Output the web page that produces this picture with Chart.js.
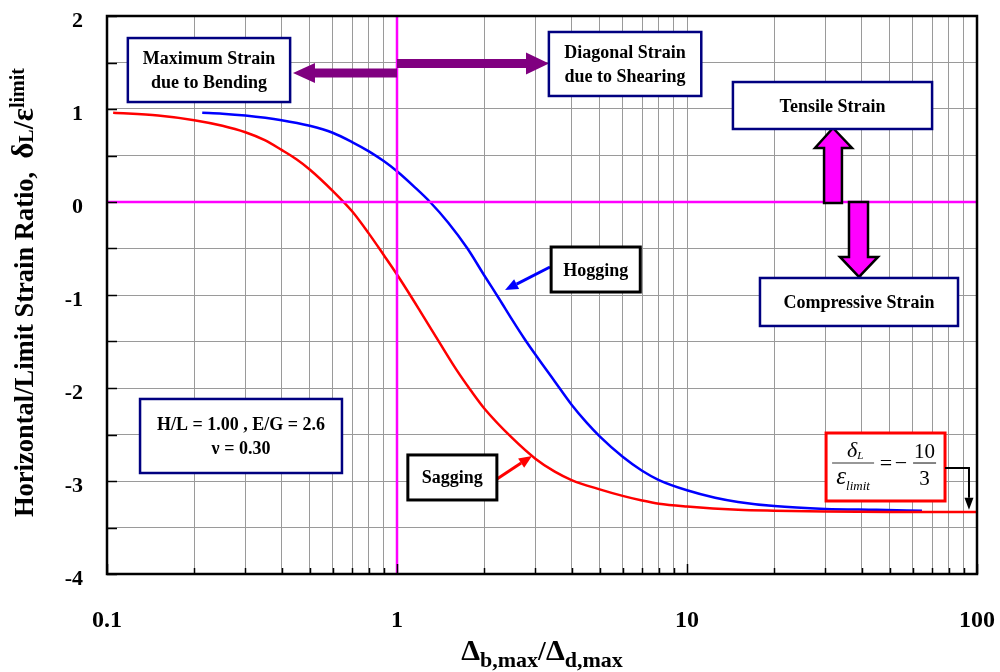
<!DOCTYPE html>
<html>
<head>
<meta charset="utf-8">
<script src="https://cdn.jsdelivr.net/npm/chart.js@4.4.0/dist/chart.umd.min.js"></script>
<style>
  html, body { margin: 0; padding: 0; background: #fff; }
  #wrap { width: 1000px; height: 672px; }
</style>
</head>
<body>
<div id="wrap"><canvas id="chart" width="1000" height="672"></canvas></div>
<script>
// Horizontal / limit strain ratio against bending-to-shear deflection ratio
const sagRatio  = [0.105, 0.15, 0.2, 0.25, 0.3, 0.35, 0.4, 0.45, 0.5, 0.6, 0.7, 0.8, 0.9, 1.0, 1.2, 1.4, 1.6, 1.8, 2.0, 2.5, 3.0, 3.5, 4, 5, 6, 7, 8, 10, 15, 20, 30, 50, 100];
const sagStrain = [0.96, 0.93, 0.88, 0.82, 0.75, 0.665, 0.56, 0.46, 0.35, 0.12, -0.10, -0.34, -0.57, -0.78, -1.17, -1.51, -1.80, -2.03, -2.22, -2.54, -2.76, -2.90, -2.99, -3.09, -3.16, -3.21, -3.245, -3.275, -3.31, -3.32, -3.328, -3.333, -3.333];

const hogRatio  = [0.213, 0.25, 0.3, 0.4, 0.5, 0.6, 0.7, 0.8, 0.9, 1.0, 1.15, 1.3, 1.5, 1.75, 2.0, 2.25, 2.5, 2.75, 3.0, 3.5, 4.0, 4.5, 5.0, 6.0, 7.0, 8.0, 10, 12.5, 15, 20, 30, 45, 64.6];
const hogStrain = [0.96, 0.95, 0.93, 0.88, 0.82, 0.745, 0.645, 0.545, 0.44, 0.33, 0.16, 0.0, -0.22, -0.50, -0.79, -1.04, -1.27, -1.47, -1.64, -1.93, -2.18, -2.37, -2.52, -2.74, -2.89, -2.99, -3.10, -3.18, -3.225, -3.27, -3.30, -3.31, -3.32];

// reference lines: unit deflection ratio and zero strain
const unitRatioX = [1, 1];
const unitRatioY = [-4, 2];
const zeroStrainX = [0.1, 100];
const zeroStrainY = [0, 0];

// axes
const xGridValues = [0.1, 0.2, 0.3, 0.4, 0.5, 0.6, 0.7, 0.8, 0.9,
                     1, 2, 3, 4, 5, 6, 7, 8, 9,
                     10, 20, 30, 40, 50, 60, 70, 80, 90, 100];
const xLabelValues = [0.1, 1, 10, 100];
const xTickLabels  = ['0.1', '1', '10', '100'];
const yLabelValues = [2, 1, 0, -1, -2, -3, -4];
const yTickLabels  = ['2', '1', '0', '-1', '-2', '-3', '-4'];

const SERIF = '"Liberation Serif", "Times New Roman", serif';
const NAVY = '#000080';

const toPoints = (xs, ys) => xs.map((v, i) => ({ x: v, y: ys[i] }));

function fontOf(p) {
  return `${p.style || 'normal'} ${p.weight || 'bold'} ${p.size}px ${SERIF}`;
}
function drawRich(ctx, parts, x, y, align) {
  let total = 0;
  const widths = parts.map(p => {
    ctx.font = fontOf(p);
    const w = ctx.measureText(p.t).width;
    total += w + (p.gap || 0);
    return w;
  });
  let cx = align === 'center' ? x - total / 2 : (align === 'right' ? x - total : x);
  ctx.textAlign = 'left';
  ctx.textBaseline = 'alphabetic';
  parts.forEach((p, i) => {
    ctx.font = fontOf(p);
    ctx.fillText(p.t, cx, y + (p.dy || 0));
    cx += widths[i] + (p.gap || 0);
  });
}

// text boxes, placed in data units (x ratio, y strain)
const noteBoxes = [
  { x0: 0.118, x1: 0.428, y0: 1.763, y1: 1.075, lines: ['Maximum Strain', 'due to Bending'], color: NAVY, lw: 2.5 },
  { x0: 3.34, x1: 11.2, y0: 1.828, y1: 1.14, lines: ['Diagonal Strain', 'due to Shearing'], color: NAVY, lw: 2.5 },
  { x0: 14.4, x1: 70, y0: 1.29, y1: 0.785, lines: ['Tensile Strain'], color: NAVY, lw: 2.5 },
  { x0: 17.85, x1: 86, y0: -0.817, y1: -1.333, lines: ['Compressive Strain'], color: NAVY, lw: 2.5 },
  { x0: 3.4, x1: 6.9, y0: -0.484, y1: -0.968, lines: ['Hogging'], color: '#000', lw: 3 },
  { x0: 1.09, x1: 2.21, y0: -2.72, y1: -3.204, lines: ['Sagging'], color: '#000', lw: 3 },
  { x0: 0.13, x1: 0.646, y0: -2.118, y1: -2.914, lines: ['H/L = 1.00 , E/G = 2.6', 'ν = 0.30'], color: NAVY, lw: 2.5 }
];

function arrowLine(ctx, x1, y1, x2, y2, color, lw, head, half) {
  const a = Math.atan2(y2 - y1, x2 - x1);
  const bx = x2 - head * Math.cos(a), by = y2 - head * Math.sin(a);
  ctx.strokeStyle = color; ctx.fillStyle = color; ctx.lineWidth = lw;
  ctx.beginPath(); ctx.moveTo(x1, y1); ctx.lineTo(bx, by); ctx.stroke();
  ctx.beginPath();
  ctx.moveTo(x2, y2);
  ctx.lineTo(bx + half * Math.sin(a), by - half * Math.cos(a));
  ctx.lineTo(bx - half * Math.sin(a), by + half * Math.cos(a));
  ctx.closePath(); ctx.fill();
}

function polygon(ctx, pts, fill, stroke, lw) {
  ctx.beginPath();
  pts.forEach((p, i) => (i ? ctx.lineTo(p[0], p[1]) : ctx.moveTo(p[0], p[1])));
  ctx.closePath();
  ctx.fillStyle = fill; ctx.fill();
  if (stroke) { ctx.strokeStyle = stroke; ctx.lineWidth = lw; ctx.lineJoin = 'miter'; ctx.stroke(); }
}

const backgroundPlugin = {
  id: 'paper',
  beforeDraw(chart) {
    const ctx = chart.ctx;
    ctx.save(); ctx.fillStyle = '#fff'; ctx.fillRect(0, 0, chart.width, chart.height); ctx.restore();
  }
};

const notesPlugin = {
  id: 'strainNotes',
  afterDatasetsDraw(chart) {
    const { ctx, chartArea: ca, scales: { x, y } } = chart;
    const X = v => x.getPixelForValue(v);
    const Y = v => y.getPixelForValue(v);
    ctx.save();

    // inward tick marks
    ctx.strokeStyle = '#000'; ctx.lineWidth = 1.5;
    xGridValues.forEach(v => {
      const px = Math.round(X(v)) + 0.5;
      const len = xLabelValues.includes(v) ? 10 : 6;
      ctx.beginPath(); ctx.moveTo(px, ca.bottom); ctx.lineTo(px, ca.bottom - len); ctx.stroke();
    });
    y.ticks.forEach(t => {
      const py = Math.round(Y(t.value)) + 0.5;
      ctx.beginPath(); ctx.moveTo(ca.left, py); ctx.lineTo(ca.left + 10, py); ctx.stroke();
    });

    // frame
    ctx.lineWidth = 2.5; ctx.strokeStyle = '#000';
    ctx.strokeRect(ca.left, ca.top, ca.right - ca.left, ca.bottom - ca.top);

    // bending / shearing arrows
    const purple = '#800080';
    const yl = Y(1.387), yr = Y(1.489);
    polygon(ctx, [[X(1), yl - 4.5], [X(0.5214), yl - 4.5], [X(0.5214), yl - 10], [X(0.4379), yl],
                  [X(0.5214), yl + 10], [X(0.5214), yl + 4.5], [X(1), yl + 4.5]], purple);
    polygon(ctx, [[X(1), yr - 4.5], [X(2.785), yr - 4.5], [X(2.785), yr - 11], [X(3.343), yr],
                  [X(2.785), yr + 11], [X(2.785), yr + 4.5], [X(1), yr + 4.5]], purple);

    // tensile / compressive arrows
    const mag = '#ff00ff';
    polygon(ctx, [[X(29.69), Y(-0.011)], [X(29.69), Y(0.581)], [X(27.63), Y(0.581)], [X(31.87), Y(0.796)],
                  [X(37.07), Y(0.581)], [X(34.22), Y(0.581)], [X(34.22), Y(-0.011)]], mag, '#000', 2.5);
    polygon(ctx, [[X(36.19), Y(0)], [X(36.19), Y(-0.591)], [X(33.7), Y(-0.591)], [X(39.18), Y(-0.806)],
                  [X(45.56), Y(-0.591)], [X(42.09), Y(-0.591)], [X(42.09), Y(0)]], mag, '#000', 2.5);

    // curve pointers
    arrowLine(ctx, X(3.37), Y(-0.699), X(2.358), Y(-0.946), '#0000ff', 3, 13, 5.5);
    arrowLine(ctx, X(2.212), Y(-2.978), X(2.921), Y(-2.731), '#ff0000', 3, 13, 5.5);

    // text boxes
    noteBoxes.forEach(b => {
      const l = X(b.x0), r = X(b.x1), t = Y(b.y0), btm = Y(b.y1);
      ctx.fillStyle = '#fff'; ctx.fillRect(l, t, r - l, btm - t);
      ctx.strokeStyle = b.color; ctx.lineWidth = b.lw; ctx.strokeRect(l, t, r - l, btm - t);
      ctx.fillStyle = '#000';
      const cx = (l + r) / 2, cy = (t + btm) / 2;
      const n = b.lines.length, step = 23.5;
      b.lines.forEach((s, i) => {
        const ly = cy + (i - (n - 1) / 2) * step + 6;
        drawRich(ctx, [{ t: s, size: 18 }], cx, ly, 'center');
      });
    });

    // limiting ratio box
    const fl = X(30.17), fr = X(77.58), ft = Y(-2.484), fb = Y(-3.215);
    ctx.fillStyle = '#fff'; ctx.fillRect(fl, ft, fr - fl, fb - ft);
    ctx.strokeStyle = '#ff0000'; ctx.lineWidth = 3; ctx.strokeRect(fl, ft, fr - fl, fb - ft);
    const mid = ft + 30;
    ctx.strokeStyle = '#333'; ctx.lineWidth = 1.2;
    ctx.beginPath(); ctx.moveTo(fl + 6, mid); ctx.lineTo(fl + 48, mid); ctx.stroke();
    ctx.beginPath(); ctx.moveTo(fl + 87, mid); ctx.lineTo(fl + 110, mid); ctx.stroke();
    ctx.fillStyle = '#000';
    drawRich(ctx, [{ t: 'δ', size: 22, style: 'italic', weight: 'normal' },
                   { t: 'L', size: 11, style: 'italic', weight: 'normal', dy: 2 }], fl + 29, ft + 24, 'center');
    drawRich(ctx, [{ t: 'ε', size: 25, style: 'italic', weight: 'normal' },
                   { t: 'limit', size: 13, style: 'italic', weight: 'normal', dy: 6 }], fl + 27, ft + 51, 'center');
    drawRich(ctx, [{ t: '=', size: 22, weight: 'normal' }], fl + 60, mid + 7, 'center');
    drawRich(ctx, [{ t: '−', size: 22, weight: 'normal' }], fl + 75, mid + 7, 'center');
    drawRich(ctx, [{ t: '10', size: 21, weight: 'normal' }], fl + 98.5, ft + 25, 'center');
    drawRich(ctx, [{ t: '3', size: 21, weight: 'normal' }], fl + 98.5, ft + 52, 'center');

    // connector to the asymptote
    const cxr = X(93.84), cyy = Y(-2.86);
    ctx.strokeStyle = '#000'; ctx.lineWidth = 2;
    ctx.beginPath(); ctx.moveTo(fr, cyy); ctx.lineTo(cxr, cyy); ctx.lineTo(cxr, Y(-3.18)); ctx.stroke();
    polygon(ctx, [[cxr - 4.5, Y(-3.18)], [cxr + 4.5, Y(-3.18)], [cxr, Y(-3.31)]], '#000');

    // axis titles
    ctx.fillStyle = '#000';
    ctx.save();
    ctx.translate(33, 517);
    ctx.rotate(-Math.PI / 2);
    drawRich(ctx, [
      { t: 'Horizontal/Limit Strain Ratio,', size: 26.5 },
      { t: '  ', size: 26 },
      { t: 'δ', size: 31 },
      { t: 'L', size: 20 },
      { t: '/', size: 29 },
      { t: 'ε', size: 31 },
      { t: 'limit', size: 20, dy: -9 }
    ], 0, 0, 'left');
    ctx.restore();

    drawRich(ctx, [
      { t: 'Δ', size: 30 },
      { t: 'b,max', size: 22, dy: 7 },
      { t: '/', size: 28 },
      { t: 'Δ', size: 30 },
      { t: 'd,max', size: 22, dy: 7 }
    ], (ca.left + ca.right) / 2, 660, 'center');

    ctx.restore();
  }
};

const tickFont = { family: SERIF, weight: 'bold' };
// fixed axis band sizes; label overhang is left to the outer margins
const fitBand = (prop, size) => s => {
  s[prop] = size;
  s.paddingTop = 0; s.paddingBottom = 0; s.paddingLeft = 0; s.paddingRight = 0;
};

new Chart(document.getElementById('chart'), {
  type: 'line',
  data: {
    datasets: [
      { label: 'unit ratio', data: toPoints(unitRatioX, unitRatioY), borderColor: '#ff00ff', borderWidth: 2.5, pointRadius: 0, order: 0 },
      { label: 'zero strain', data: toPoints(zeroStrainX, zeroStrainY), borderColor: '#ff00ff', borderWidth: 2.5, pointRadius: 0, order: 0 },
      { label: 'Sagging', data: toPoints(sagRatio, sagStrain), borderColor: '#ff0000', borderWidth: 2.5, pointRadius: 0, cubicInterpolationMode: 'monotone', order: 1 },
      { label: 'Hogging', data: toPoints(hogRatio, hogStrain), borderColor: '#0000ff', borderWidth: 2.5, pointRadius: 0, cubicInterpolationMode: 'monotone', order: 2 }
    ]
  },
  options: {
    responsive: false,
    animation: false,
    devicePixelRatio: 1,
    events: [],
    layout: { padding: { top: 16, right: 23, left: 0, bottom: 0 } },
    plugins: { legend: { display: false }, tooltip: { enabled: false } },
    scales: {
      x: {
        type: 'logarithmic',
        min: 0.1, max: 100,
        afterBuildTicks: s => { s.ticks = xGridValues.map(v => ({ value: v })); },
        afterFit: fitBand('height', 98),
        grid: { color: '#9a9a9a', lineWidth: 1, drawTicks: false },
        border: { display: false },
        ticks: {
          autoSkip: false, maxRotation: 0, padding: 32, color: '#000',
          font: { ...tickFont, size: 24 },
          callback: v => { const i = xLabelValues.indexOf(v); return i >= 0 ? xTickLabels[i] : ''; }
        }
      },
      y: {
        min: -4, max: 2,
        afterFit: fitBand('width', 107),
        grid: { color: '#9a9a9a', lineWidth: 1, drawTicks: false },
        border: { display: false },
        ticks: {
          stepSize: 0.5, autoSkip: false, padding: 24, labelOffset: 5, color: '#000',
          font: { ...tickFont, size: 22 },
          callback: v => { const i = yLabelValues.indexOf(v); return i >= 0 ? yTickLabels[i] : ''; }
        }
      }
    }
  },
  plugins: [backgroundPlugin, notesPlugin]
});
</script>
</body>
</html>
